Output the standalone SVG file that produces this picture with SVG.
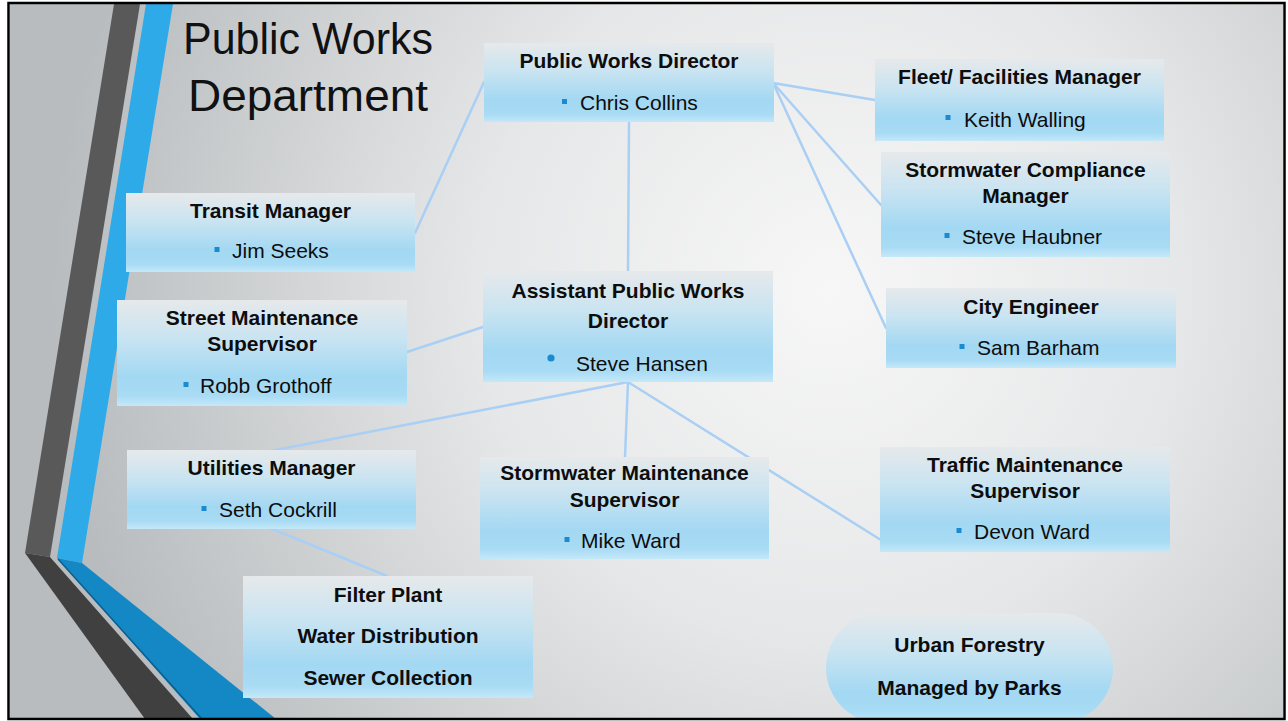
<svg xmlns="http://www.w3.org/2000/svg" width="1288" height="721" viewBox="0 0 1288 721">
  <defs>
    <radialGradient id="bg" gradientUnits="userSpaceOnUse" cx="830" cy="290" r="780">
      <stop offset="0" stop-color="#f7f7f7"/>
      <stop offset="0.45" stop-color="#e6e7e8"/>
      <stop offset="1" stop-color="#b8bcbe"/>
    </radialGradient>
    <linearGradient id="box" x1="0" y1="0" x2="0" y2="1">
      <stop offset="0" stop-color="#e6e9eb"/>
      <stop offset="0.35" stop-color="#cae4f1"/>
      <stop offset="0.72" stop-color="#a3d8f3"/>
      <stop offset="0.9" stop-color="#a8dbf4"/>
      <stop offset="1" stop-color="#c4e8f9"/>
    </linearGradient>
    <clipPath id="slide">
      <rect x="10" y="4" width="1273" height="714"/>
    </clipPath>
    <style>
      .node { fill: url(#box); }
      .t { font-family: "Liberation Sans", Arial, sans-serif; font-size: 21px; font-weight: bold; fill: #0d0d0d; text-anchor: middle; }
      .n { font-family: "Liberation Sans", Arial, sans-serif; font-size: 21px; fill: #0d0d0d; }
      .b { fill: #1a8bd0; }
      .title { font-family: "Liberation Sans", Arial, sans-serif; font-size: 44px; fill: #111111; }
      .conn line { stroke: #a9d0f4; stroke-width: 2.5; stroke-linecap: round; }
    </style>
  </defs>

  <rect x="0" y="0" width="1288" height="721" fill="#ffffff"/>

  <g clip-path="url(#slide)">
    <rect x="10" y="4" width="1273" height="714" fill="url(#bg)"/>

    <g id="decor">
      <polygon points="114,4 140,4 50,557 25,553" fill="#595959"/>
      <polygon points="25,553 50,557 193,719 145,719" fill="#404040"/>
      <polygon points="146,4 173,4 82,563 57,558" fill="#2eaae8"/>
      <polygon points="57,558 82,563 276,719 200,719" fill="#1487c5"/>
      <line x1="58" y1="559" x2="202" y2="719" stroke="#0d5f8e" stroke-width="1.5"/>
    </g>

    <g id="title">
      <text class="title" x="183" y="54" textLength="250" lengthAdjust="spacingAndGlyphs">Public Works</text>
      <text class="title" x="188" y="111" textLength="240" lengthAdjust="spacingAndGlyphs">Department</text>
    </g>

    <g id="connectors" class="conn">
      <line x1="484" y1="82" x2="415" y2="233"/>
      <line x1="629" y1="122" x2="628" y2="271"/>
      <line x1="773" y1="83" x2="875" y2="100"/>
      <line x1="774" y1="84" x2="881" y2="205"/>
      <line x1="774" y1="85" x2="886" y2="328"/>
      <line x1="483" y1="327" x2="407" y2="352"/>
      <line x1="628" y1="382" x2="270" y2="451"/>
      <line x1="628" y1="382" x2="625" y2="457"/>
      <line x1="628" y1="382" x2="881" y2="540"/>
      <line x1="270" y1="528" x2="387" y2="576"/>
    </g>

    <g id="public-works-director">
      <rect class="node" x="484" y="43" width="290" height="79"/>
      <text class="t" x="629" y="68">Public Works Director</text>
      <rect class="b" x="562" y="99" width="5" height="5"/>
      <text class="n" x="580" y="110">Chris Collins</text>
    </g>

    <g id="assistant-director">
      <rect class="node" x="483" y="271" width="290" height="111"/>
      <text class="t" x="628" y="298">Assistant Public Works</text>
      <text class="t" x="628" y="328">Director</text>
      <circle class="b" cx="551" cy="358" r="3.6"/>
      <text class="n" x="576" y="371">Steve Hansen</text>
    </g>

    <g id="fleet-facilities">
      <rect class="node" x="875" y="59" width="289" height="82"/>
      <text class="t" x="1019.5" y="84">Fleet/ Facilities Manager</text>
      <rect class="b" x="945.5" y="115" width="5" height="5"/>
      <text class="n" x="964" y="127">Keith Walling</text>
    </g>

    <g id="stormwater-compliance">
      <rect class="node" x="881" y="152" width="289" height="105"/>
      <text class="t" x="1025.5" y="177">Stormwater Compliance</text>
      <text class="t" x="1025.5" y="203">Manager</text>
      <rect class="b" x="944.5" y="233" width="5" height="5"/>
      <text class="n" x="962" y="244">Steve Haubner</text>
    </g>

    <g id="city-engineer">
      <rect class="node" x="886" y="288" width="290" height="80"/>
      <text class="t" x="1031" y="314">City Engineer</text>
      <rect class="b" x="959.5" y="344" width="5" height="5"/>
      <text class="n" x="977" y="355">Sam Barham</text>
    </g>

    <g id="transit-manager">
      <rect class="node" x="126" y="193" width="289" height="79"/>
      <text class="t" x="270.5" y="218">Transit Manager</text>
      <rect class="b" x="214.5" y="247" width="5" height="5"/>
      <text class="n" x="232" y="258">Jim Seeks</text>
    </g>

    <g id="street-maintenance">
      <rect class="node" x="117" y="300" width="290" height="106"/>
      <text class="t" x="262" y="325">Street Maintenance</text>
      <text class="t" x="262" y="351">Supervisor</text>
      <rect class="b" x="183.5" y="382" width="5" height="5"/>
      <text class="n" x="200" y="393">Robb Grothoff</text>
    </g>

    <g id="utilities-manager">
      <rect class="node" x="127" y="450" width="289" height="79"/>
      <text class="t" x="271.5" y="475">Utilities Manager</text>
      <rect class="b" x="201.5" y="506" width="5" height="5"/>
      <text class="n" x="219" y="517">Seth Cockrill</text>
    </g>

    <g id="stormwater-maintenance">
      <rect class="node" x="480" y="457" width="289" height="102"/>
      <text class="t" x="624.5" y="480">Stormwater Maintenance</text>
      <text class="t" x="624.5" y="507">Supervisor</text>
      <rect class="b" x="564.5" y="537" width="5" height="5"/>
      <text class="n" x="581" y="548">Mike Ward</text>
    </g>

    <g id="traffic-maintenance">
      <rect class="node" x="880" y="447" width="290" height="105"/>
      <text class="t" x="1025" y="472">Traffic Maintenance</text>
      <text class="t" x="1025" y="498">Supervisor</text>
      <rect class="b" x="956.5" y="528" width="5" height="5"/>
      <text class="n" x="974" y="539">Devon Ward</text>
    </g>

    <g id="utilities-divisions">
      <rect class="node" x="243" y="576" width="290" height="122"/>
      <text class="t" x="388" y="602">Filter Plant</text>
      <text class="t" x="388" y="643">Water Distribution</text>
      <text class="t" x="388" y="685">Sewer Collection</text>
    </g>

    <g id="urban-forestry">
      <rect class="node" x="826" y="613" width="287" height="110" rx="55" ry="55"/>
      <text class="t" x="969.5" y="652">Urban Forestry</text>
      <text class="t" x="969.5" y="695">Managed by Parks</text>
    </g>
  </g>

  <rect x="8.5" y="3" width="1276" height="716" fill="none" stroke="#000000" stroke-width="2.5"/>
</svg>
